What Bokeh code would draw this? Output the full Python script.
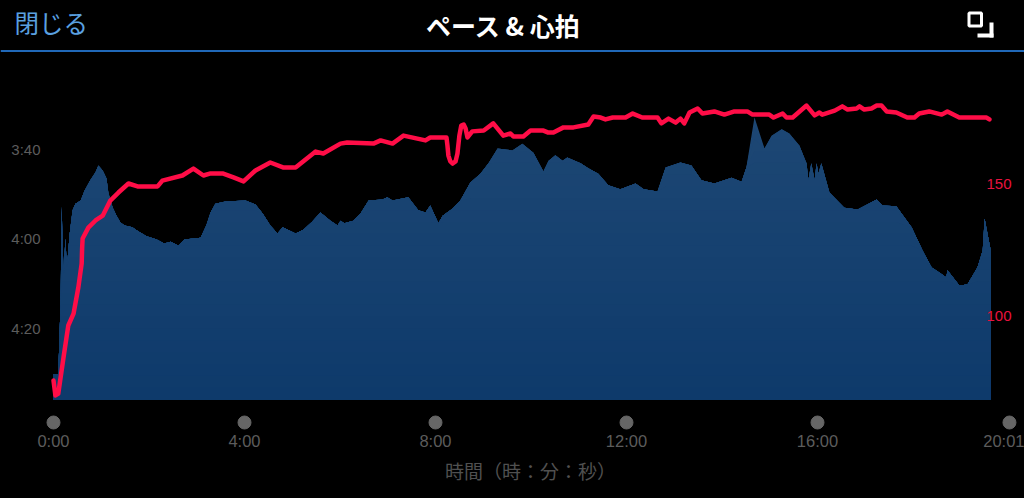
from bokeh.plotting import figure
from bokeh.models import Range1d, LinearAxis, FixedTicker, Label, Span
from bokeh.embed import file_html
from bokeh.resources import INLINE
import numpy as np

# time in minutes, pace in seconds per km
pace_t = [0,.10,.15,.17,.21,.25,.28,.34,.40,.46,.57,.65,.77,.88,.94,1.03,1.11,1.15,1.24,1.32,1.40,1.49,1.65,1.78,1.95,2.16,2.32,2.45,2.62,2.74,3.08,3.20,3.29,3.39,3.60,4.02,4.23,4.38,4.54,4.69,4.80,5.07,5.24,5.42,5.59,5.80,5.95,6.01,6.09,6.28,6.43,6.60,6.89,6.99,7.10,7.43,7.64,7.79,7.89,8.06,8.15,8.36,8.52,8.73,8.94,9.11,9.30,9.61,9.82,10.05,10.26,10.37,10.51,10.66,10.76,11.04,11.20,11.41,11.62,11.87,12.19,12.36,12.65,12.82,13.13,13.36,13.57,13.84,14.20,14.41,14.51,14.68,14.89,15.04,15.25,15.41,15.62,15.77,15.81,15.87,15.94,15.98,16.02,16.08,16.25,16.56,16.84,17.24,17.36,17.65,17.97,18.20,18.39,18.55,18.70,18.72,18.97,19.14,19.35,19.46,19.50,19.54,19.62]
pace_s = [270.3,270.3,253.7,232.7,247.7,239.9,246.4,238.8,233.6,232.1,231.4,229.2,226.9,225.1,223.6,224.7,226.5,229.8,233.0,234.8,236.3,237.0,237.4,238.3,239.4,240.1,241.0,240.6,241.5,240.1,239.7,237.0,234.1,232.1,231.6,231.4,232.3,234.3,237.0,238.8,237.4,238.8,237.9,236.1,234.1,235.9,237.0,235.9,236.5,235.9,234.3,231.4,231.2,230.7,231.4,230.7,233.6,234.1,232.5,236.5,234.8,233.2,231.4,227.4,225.4,223.1,219.8,220.2,218.7,220.7,224.9,222.5,221.3,222.5,221.8,223.1,224.2,225.4,228.0,228.9,227.6,228.9,229.4,224.0,222.9,223.6,226.9,227.6,226.3,227.2,224.0,212.8,219.8,216.9,215.5,216.4,219.1,223.1,226.9,223.1,226.9,223.1,225.4,223.1,229.6,233.0,233.4,231.2,232.5,232.7,237.4,242.6,246.4,247.5,248.6,247.0,250.4,250.2,246.4,242.6,235.4,237.7,242.1]

hr_t = [0,.04,.10,.21,.31,.42,.52,.59,.60,.61,.73,.88,1.03,1.19,1.36,1.57,1.76,2.18,2.28,2.70,2.93,3.14,3.29,3.54,3.77,3.98,4.23,4.54,4.82,5.07,5.49,5.65,6.01,6.15,6.70,6.85,7.10,7.33,7.79,7.89,8.23,8.25,8.27,8.31,8.36,8.42,8.46,8.50,8.54,8.59,8.63,8.67,8.77,9.01,9.21,9.42,9.57,9.63,9.84,9.99,10.26,10.35,10.47,10.68,10.89,11.20,11.31,11.46,11.56,11.71,11.98,12.13,12.33,12.65,12.73,12.88,13.03,13.13,13.21,13.32,13.49,13.59,13.84,14.05,14.26,14.53,14.64,14.99,15.08,15.27,15.35,15.48,15.77,15.94,16.04,16.10,16.36,16.52,16.63,16.82,16.88,16.98,17.13,17.24,17.34,17.45,17.65,17.88,18.03,18.13,18.34,18.60,18.72,18.97,19.54,19.60]
hr_bpm = [75.9,70.3,71.0,84.6,96.6,101.1,110.9,119.9,125.9,129.3,133.4,136.1,137.9,143.6,146.6,150,148.9,148.9,151.1,153.0,155.6,153.0,153.8,153.8,152.3,150.8,154.9,157.9,156.0,156.0,162.0,161.3,165.0,165.4,165.0,166.2,165.0,168.0,166.2,167.3,167.3,164.3,160.5,158.3,157.5,158.3,161.3,168.0,171.8,172.2,170.7,167.3,169.6,169.9,172.6,168.0,168.8,167.7,167.7,169.9,169.9,169.2,169.2,171.1,171.1,172.2,175.2,174.8,174.1,174.8,174.8,176.3,174.8,174.8,172.6,174.4,172.9,174.4,172.6,176.7,178.2,176.3,177.1,175.9,177.1,177.1,175.9,175.9,174.8,176.3,174.8,174.8,179.3,175.6,176.7,175.9,177.4,179.0,177.8,178.2,179.0,177.8,178.2,179.3,179.3,177.1,176.7,174.8,174.8,176.3,177.1,175.9,177.1,174.8,174.8,174.1]

x_ticks = [0, 4, 8, 12, 16, 20.02]
x_labels = ["0:00", "4:00", "8:00", "12:00", "16:00", "20:01"]
pace_ticks = [220, 240, 260]
pace_labels = ["3:40", "4:00", "4:20"]
hr_ticks = [100, 150]

W, H = 1024, 498
PX_PER_MIN = 47.75
px_x = lambda x: (x - 53) / PX_PER_MIN          # page x -> minutes
px_y = lambda y: 220 + (y - 149) * 0.2235       # page y -> pace
BASE = px_y(399)
TICK_Y = px_y(422)

p = figure(width=W, height=H, output_backend="svg", toolbar_location=None,
           x_range=Range1d(px_x(0), px_x(W)), y_range=Range1d(px_y(H), px_y(0)),
           x_axis_type=None, y_axis_type=None, min_border=0,
           background_fill_color="#000000", border_fill_color="#000000", outline_line_color=None)
p.grid.visible = False
p.extra_y_ranges["hr"] = Range1d(150 + (183 - H) * 0.376, 150 + 183 * 0.376)

# area with a vertical gradient, painted from top to bottom
t = np.array(pace_t)
s = np.array(pace_s)
top_c, bot_c = np.array([29, 71, 116]), np.array([14, 58, 107])
STEPS = 24
for i in range(STEPS):
    f = i / (STEPS - 1)
    level = px_y(115) + (BASE - px_y(115)) * i / STEPS
    col = "#%02x%02x%02x" % tuple(int(round(v)) for v in top_c + (bot_c - top_c) * f)
    p.varea(x=pace_t, y1=list(np.maximum(s, level)), y2=[BASE] * len(t), fill_color=col)

p.line(x=hr_t, y=hr_bpm, y_range_name="hr", line_color="#ff0d47", line_width=4.5,
       line_join="round", line_cap="round")

# tick dots
p.scatter(x=x_ticks, y=[TICK_Y] * len(x_ticks), size=13, color="#666666")

# axes
xa = LinearAxis(ticker=FixedTicker(ticks=x_ticks),
                major_label_overrides={a: b for a, b in zip(x_ticks, x_labels)},
                fixed_location=px_y(422),
                axis_line_color=None, major_tick_line_color=None, minor_tick_line_color=None,
                major_label_text_color="#5c5c5c", major_label_text_font="Liberation Sans",
                major_label_text_font_size="16.5px", major_label_standoff=3)
p.add_layout(xa, "below")

ya = LinearAxis(ticker=FixedTicker(ticks=pace_ticks),
                major_label_overrides={a: b for a, b in zip(pace_ticks, pace_labels)},
                fixed_location=px_x(53),
                axis_line_color=None, major_tick_line_color=None, minor_tick_line_color=None,
                major_label_text_color="#5c5c5c", major_label_text_font="Liberation Sans",
                major_label_text_font_size="15px", major_label_standoff=7)
p.add_layout(ya, "left")

ra = LinearAxis(y_range_name="hr", ticker=FixedTicker(ticks=hr_ticks),
                fixed_location=px_x(980),
                axis_line_color=None, major_tick_line_color=None, minor_tick_line_color=None,
                major_label_text_color="#e8123f", major_label_text_font="Liberation Sans",
                major_label_text_font_size="15px", major_label_standoff=0)
p.add_layout(ra, "right")

# header
p.add_layout(Span(location=px_y(50.5), dimension="width", line_color="#2068b8", line_width=2))
p.add_layout(Label(x=px_x(14), y=px_y(22), text="閉じる", text_color="#5aa0e0",
                   text_font="Noto Sans CJK JP", text_font_size="24.5px", text_baseline="middle"))
p.add_layout(Label(x=px_x(503), y=px_y(24), text="ペース & 心拍", text_color="#ffffff", text_align="center",
                   text_font="Noto Sans CJK JP", text_font_size="25px", text_font_style="bold",
                   text_baseline="middle"))
p.add_layout(Label(x=px_x(530), y=px_y(470), text="時間（時：分：秒）", text_color="#505050", text_align="center",
                   text_font="Noto Sans CJK JP", text_font_size="19px", text_baseline="middle"))

# expand icon
p.quad(left=[px_x(968.5)], right=[px_x(981)], top=[px_y(12.5)], bottom=[px_y(25.5)],
       fill_color=None, line_color="#ffffff", line_width=3)
p.quad(left=[px_x(977), px_x(989)], right=[px_x(993), px_x(993)], top=[px_y(33), px_y(22)],
       bottom=[px_y(37), px_y(37)], fill_color="#ffffff", line_color=None)

html = file_html(p, INLINE)
html = html.replace("<head>", "<head><style>html,body{margin:0;padding:0;background:#000;overflow:hidden}</style>", 1)
open("out.html", "w").write(html)
